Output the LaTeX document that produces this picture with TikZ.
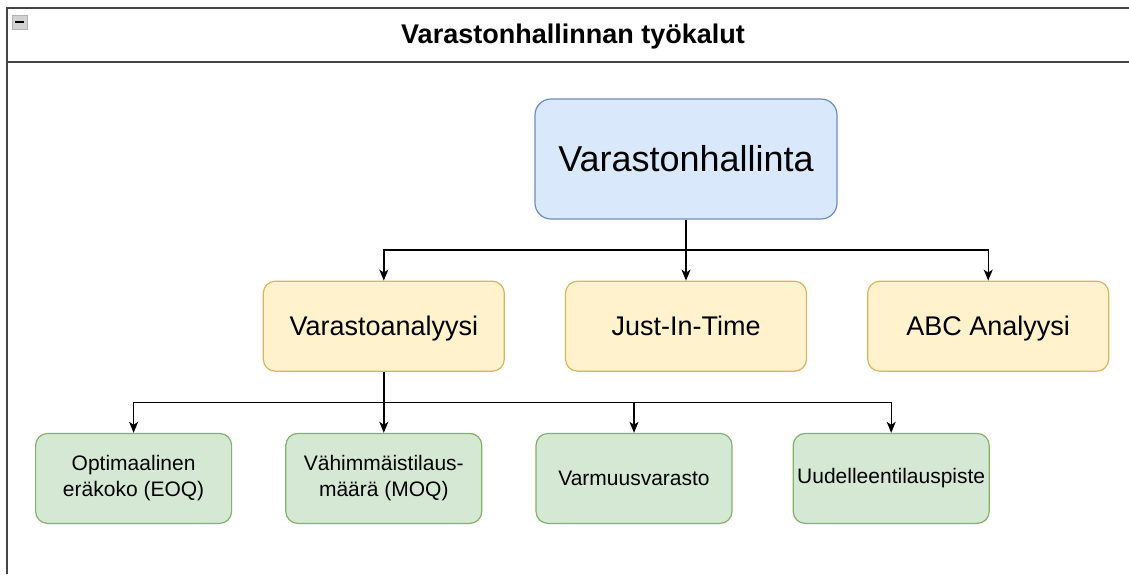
\documentclass[tikz,border=0pt]{standalone}
\usepackage{fontspec}
\setmainfont{Liberation Sans}
\usepackage{tikz}
\usetikzlibrary{arrows.meta,calc,positioning}
\definecolor{topfill}{HTML}{DAE8FC}
\definecolor{topline}{HTML}{6C8EBF}
\definecolor{midfill}{HTML}{FFF2CC}
\definecolor{midline}{HTML}{D6B656}
\definecolor{lowfill}{HTML}{D5E8D4}
\definecolor{lowline}{HTML}{82B366}
\definecolor{frameline}{gray}{0.27}

\begin{document}
\begin{tikzpicture}[x=1pt,y=-1pt,
  topbox/.style={draw=topline,fill=topfill,rounded corners=16pt,line width=1.2pt,
    minimum width=302pt,minimum height=120pt,font=\fontsize{36}{40}\selectfont},
  midbox/.style={draw=midline,fill=midfill,rounded corners=12pt,line width=1.2pt,
    minimum width=241pt,minimum height=90pt,text height=19.5pt,text depth=0pt,
    font=\fontsize{27}{30}\selectfont},
  lowbox/.style={draw=lowline,fill=lowfill,rounded corners=12pt,line width=1.2pt,
    minimum width=196pt,minimum height=90pt,align=center,
    font=\fontsize{21}{26}\selectfont},
  flow/.style={-{Stealth[length=11pt,width=9pt,inset=3pt]},line width=1.4pt}]
\useasboundingbox (0,0) rectangle (1129,574);
% frame of the container
\draw[frameline,line width=1.8pt] (7,574) -- (7,8) -- (1129,8);
\draw[frameline,line width=1.8pt] (7,62) -- (1129,62);
\draw[fill=gray!35,draw=gray!60,line width=.8pt] (12,15) rectangle (27,29);
\draw[line width=1.6pt] (15,22) -- (24,22);
\node[font=\bfseries\fontsize{27}{30}\selectfont,anchor=base] (title) at (573,43) {Varastonhallinnan työkalut};
% nodes
\node[topbox] (hallinta) at (686,159) {Varastonhallinta};
\node[midbox,below=61pt of hallinta] (jit) {Just-In-Time};
\node[midbox,left=60pt of jit] (analyysi) {Varastoanalyysi};
\node[midbox,right=60pt of jit] (abc) {ABC Analyysi};
\node[lowbox,below=61pt of analyysi] (moq) {Vähimmäistilaus-\\määrä (MOQ)};
\node[lowbox,left=53pt of moq] (eoq) {Optimaalinen\\eräkoko (EOQ)};
\node[lowbox,right=53pt of moq] (varmuus) {Varmuusvarasto};
\node[lowbox,right=60pt of varmuus] (piste) {Uudelleentilauspiste};
% connectors
\draw[flow] (hallinta) -- (jit);
\draw[flow] (hallinta.south) |- ($(hallinta.south)!.5!(jit.north)$) -| (analyysi.north);
\draw[flow] (hallinta.south) |- ($(hallinta.south)!.5!(jit.north)$) -| (abc.north);
\draw[flow] (analyysi) -- (moq);
\draw[flow] (analyysi.south) |- ($(analyysi.south)!.5!(moq.north)$) -| (eoq.north);
\draw[flow] (analyysi.south) |- ($(analyysi.south)!.5!(moq.north)$) -| (varmuus.north);
\draw[flow] (analyysi.south) |- ($(analyysi.south)!.5!(moq.north)$) -| (piste.north);
\end{tikzpicture}
\end{document}
